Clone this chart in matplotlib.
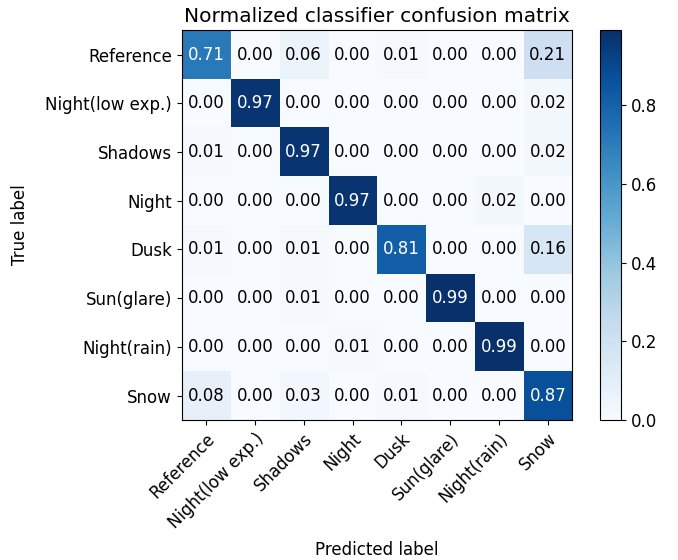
import numpy as np
import matplotlib
matplotlib.use("Agg")
import matplotlib.pyplot as plt

classes = ["Reference", "Night(low exp.)", "Shadows", "Night", "Dusk",
           "Sun(glare)", "Night(rain)", "Snow"]
cm = np.array([
    [0.71, 0.00, 0.06, 0.00, 0.01, 0.00, 0.00, 0.21],
    [0.00, 0.97, 0.00, 0.00, 0.00, 0.00, 0.00, 0.02],
    [0.01, 0.00, 0.97, 0.00, 0.00, 0.00, 0.00, 0.02],
    [0.00, 0.00, 0.00, 0.97, 0.00, 0.00, 0.02, 0.00],
    [0.01, 0.00, 0.01, 0.00, 0.81, 0.00, 0.00, 0.16],
    [0.00, 0.00, 0.01, 0.00, 0.00, 0.99, 0.00, 0.00],
    [0.00, 0.00, 0.00, 0.01, 0.00, 0.00, 0.99, 0.00],
    [0.08, 0.00, 0.03, 0.00, 0.01, 0.00, 0.00, 0.87],
])

fig = plt.figure(figsize=(6.78, 5.60), dpi=100)
ax = fig.add_axes([0.268, 0.25, 0.576, 0.696])
cax = fig.add_axes([0.885, 0.25, 0.031, 0.696])

im = ax.imshow(cm, interpolation="nearest", cmap=plt.cm.Blues, vmin=0, vmax=0.99,
               aspect="auto")
ax.set_title("Normalized classifier confusion matrix", fontsize=14.5)
cb = fig.colorbar(im, cax=cax)
cb.set_ticks([0.0, 0.2, 0.4, 0.6, 0.8])
cb.ax.tick_params(labelsize=12)

ticks = np.arange(len(classes))
ax.set_xticks(ticks)
ax.set_xticklabels(classes, rotation=45, ha="right", rotation_mode="anchor", fontsize=12)
ax.set_yticks(ticks)
ax.set_yticklabels(classes, fontsize=12)

thresh = cm.max() / 2.
for i in range(cm.shape[0]):
    for j in range(cm.shape[1]):
        ax.text(j, i, format(cm[i, j], ".2f"), ha="center", va="center", fontsize=12,
                color="white" if cm[i, j] > thresh else "black")

ax.set_ylabel("True label", fontsize=12)
ax.set_xlabel("Predicted label", fontsize=12)
ax.xaxis.set_label_coords(0.5, -0.31)
ax.yaxis.set_label_coords(-0.39, 0.5)

fig.savefig("out.png", dpi=100)
